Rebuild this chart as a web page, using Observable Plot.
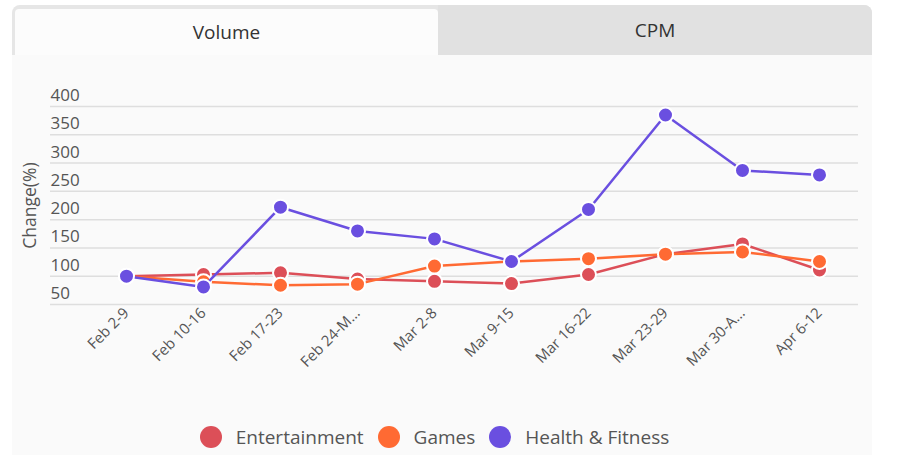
<!DOCTYPE html>
<html>
<head>
<meta charset="utf-8">
<script src="https://cdn.jsdelivr.net/npm/d3@7"></script>
<script src="https://cdn.jsdelivr.net/npm/@observablehq/plot@0.6"></script>
<style>
  html, body { margin: 0; padding: 0; background: #ffffff; font-family: "Open Sans", sans-serif; }
  #page { position: relative; width: 899px; height: 455px; overflow: hidden; }
  #panel { position: absolute; left: 12px; top: 5px; width: 860px; height: 450px; background: #fafafa; border-radius: 8px 8px 0 0; }
  #tabs { position: absolute; left: 12px; top: 5px; width: 860px; height: 50px; background: #e6e6e6; border-radius: 8px 8px 0 0; }
  .tab { position: absolute; top: 0; height: 50px; display: flex; align-items: center; justify-content: center; font-size: 19px; color: #333; }
  #tab-vol { left: 3px; top: 4px; height: 46px; width: 423px; background: #fcfcfc; border-radius: 4px 4px 0 0; }
  #tab-cpm { left: 426px; width: 434px; background: #e1e1e1; border-radius: 0 8px 0 0; }
  #chart { position: absolute; left: 0; top: 0; }
  #chart g[aria-label="y-axis label"] text { font-size: 17.5px; }
  #legend { position: absolute; left: -15px; top: 424px; width: 899px; display: flex; justify-content: center; align-items: center; font-size: 19px; color: #555; }
  .item { display: flex; align-items: center; margin: 0 7px; }
  .sw { width: 22px; height: 22px; border-radius: 50%; margin-right: 14px; }
</style>
</head>
<body>
<div id="page">
  <div id="panel"></div>
  <div id="tabs">
    <div class="tab" id="tab-vol">Volume</div>
    <div class="tab" id="tab-cpm">CPM</div>
  </div>
  <div id="chart"></div>
  <div id="legend"></div>
</div>
<script>
const weeks = ["Feb 2-9", "Feb 10-16", "Feb 17-23", "Feb 24-M...", "Mar 2-8", "Mar 9-15", "Mar 16-22", "Mar 23-29", "Mar 30-A...", "Apr 6-12"];
const seriesNames = ["Entertainment", "Games", "Health & Fitness"];
const seriesColors = ["#dc4f58", "#ff6a33", "#6a4fe0"];
const entertainment = [100, 103, 106, 95, 91, 87, 103, 139, 157, 111];
const games = [100, 90, 84, 86, 118, 126, 131, 139, 143, 126];
const health = [100, 81, 222, 180, 166, 126, 218, 385, 287, 279];
const yTicks = [50, 100, 150, 200, 250, 300, 350, 400];

const allValues = [entertainment, games, health];
const data = [];
seriesNames.forEach((s, i) => {
  weeks.forEach((w, j) => data.push({series: s, week: w, value: allValues[i][j]}));
});

const marks = [
  Plot.ruleY(yTicks, {stroke: "#dedede", strokeWidth: 1.5}),
  Plot.axisY({ticks: yTicks, tickSize: 0, tickPadding: 0, textAnchor: "start", dy: -11, fontSize: 17, color: "#555", label: null}),
  Plot.axisY({ticks: [], tickSize: 0, fontSize: 17.5, color: "#555",
    label: "Change(%)", labelAnchor: "center", labelOffset: 27, labelArrow: false}),
  Plot.axisX({tickSize: 0, tickRotate: -45, fontSize: 15, color: "#555", label: null, tickPadding: 6})
];
seriesNames.forEach((s, i) => {
  const d = data.filter(r => r.series === s);
  marks.push(Plot.line(d, {x: "week", y: "value", stroke: seriesColors[i], strokeWidth: 2.5}));
  marks.push(Plot.dot(d, {x: "week", y: "value", r: 7.5, fill: seriesColors[i], stroke: "#ffffff", strokeWidth: 2}));
});

const chart = Plot.plot({
  width: 899,
  height: 400,
  marginLeft: 50,
  marginRight: 41,
  marginTop: 106,
  marginBottom: 96,
  style: {background: "transparent", fontFamily: "Open Sans, sans-serif", color: "#555", overflow: "visible"},
  x: {type: "point", domain: weeks, padding: 0, insetLeft: 75, insetRight: 39},
  y: {domain: [50, 400]},
  marks
});
document.getElementById("chart").appendChild(chart);

const legend = document.getElementById("legend");
seriesNames.forEach((s, i) => {
  const item = document.createElement("div");
  item.className = "item";
  const sw = document.createElement("div");
  sw.className = "sw";
  sw.style.background = seriesColors[i];
  const t = document.createElement("span");
  t.textContent = s;
  item.appendChild(sw);
  item.appendChild(t);
  legend.appendChild(item);
});
</script>
</body>
</html>
